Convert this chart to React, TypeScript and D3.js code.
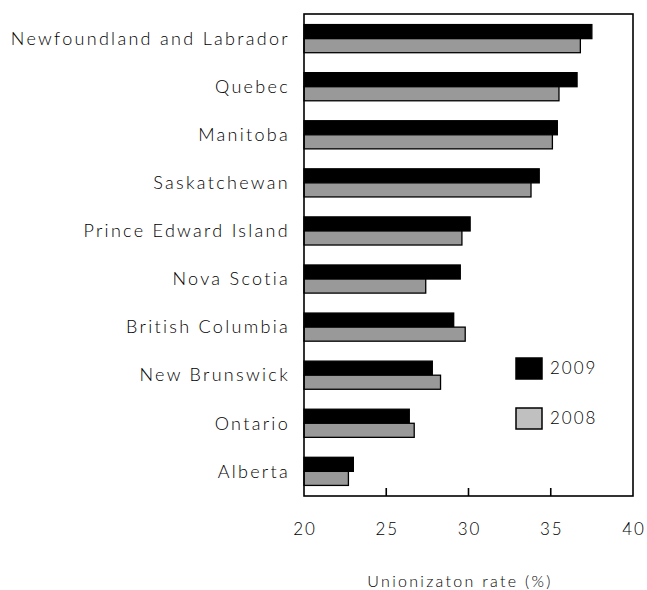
import React, { useEffect, useRef } from 'react';
import * as d3 from 'd3';

// Unionization rate by province, 2009 vs 2008
const provinces = [
  'Newfoundland and Labrador',
  'Quebec',
  'Manitoba',
  'Saskatchewan',
  'Prince Edward Island',
  'Nova Scotia',
  'British Columbia',
  'New Brunswick',
  'Ontario',
  'Alberta',
];
const rate2009 = [37.5, 36.6, 35.4, 34.3, 30.1, 29.5, 29.1, 27.8, 26.4, 23.0];
const rate2008 = [36.8, 35.5, 35.1, 33.8, 29.6, 27.4, 29.8, 28.3, 26.7, 22.7];
const xTicks = [20, 25, 30, 35, 40];
const seriesNames = ['2009', '2008'];

const FONT = 'Lato, "DejaVu Sans", sans-serif';

export default function App() {
  const svgRef = useRef<SVGSVGElement | null>(null);

  useEffect(() => {
    if (!svgRef.current) return;
    const W = 647;
    const H = 590;
    const margin = { top: 14, right: 14, bottom: 94, left: 304 };
    const width = W - margin.left - margin.right;
    const height = H - margin.top - margin.bottom;

    d3.select(svgRef.current).selectAll('*').remove();
    const svg = d3.select(svgRef.current).attr('width', W).attr('height', H);
    const g = svg.append('g').attr('transform', `translate(${margin.left},${margin.top})`);

    const x = d3.scaleLinear().domain([20, 40]).range([0, width]);
    const y = d3.scaleBand().domain(provinces).range([0, height]).paddingInner(0.415).paddingOuter(0.22);
    const sub = d3.scaleBand().domain(seriesNames).range([0, y.bandwidth()]);

    const rows = provinces.map((p, i) => ({ p, v: [rate2009[i], rate2008[i]] }));
    const fills = ['#000000', '#999999'];

    // bars
    const grp = g.selectAll('.row').data(rows).enter().append('g')
      .attr('transform', d => `translate(0,${y(d.p)})`);
    seriesNames.forEach((s, k) => {
      grp.append('rect')
        .attr('x', 0)
        .attr('y', sub(s) as number)
        .attr('width', d => x(d.v[k]))
        .attr('height', sub.bandwidth())
        .attr('fill', fills[k])
        .attr('stroke', '#000')
        .attr('stroke-width', 1.3);
    });

    // frame
    g.append('rect')
      .attr('x', 0).attr('y', 0).attr('width', width).attr('height', height)
      .attr('fill', 'none').attr('stroke', '#000').attr('stroke-width', 1.6);

    // inner ticks on bottom axis
    g.selectAll('.tk').data(xTicks.slice(1, -1)).enter().append('line')
      .attr('x1', d => x(d)).attr('x2', d => x(d))
      .attr('y1', height - 8).attr('y2', height)
      .attr('stroke', '#000').attr('stroke-width', 1.6);

    const txt = (sel: any, size: number, ls: number) =>
      sel.attr('font-family', FONT)
        .attr('font-size', size)
        .attr('font-weight', 300)
        .attr('letter-spacing', ls)
        .attr('fill', '#000');

    // tick labels
    txt(g.selectAll('.tl').data(xTicks).enter().append('text')
      .attr('x', d => x(d) + 1)
      .attr('y', height + 39)
      .attr('text-anchor', 'middle'), 17, 2)
      .text(d => d);

    // category labels
    txt(g.selectAll('.cl').data(provinces).enter().append('text')
      .attr('x', -14)
      .attr('y', d => (y(d) as number) + y.bandwidth() / 2)
      .attr('dy', '0.35em')
      .attr('text-anchor', 'end'), 18, 2.3)
      .text(d => d);

    // axis title
    txt(g.append('text')
      .attr('x', 156)
      .attr('y', height + 91)
      .attr('text-anchor', 'middle'), 16, 2.3)
      .text('Unionizaton rate (%)');

    // legend
    const legendFills = ['#000000', '#c0c0c0'];
    const legendY = [344, 394];
    seriesNames.forEach((s, k) => {
      g.append('rect')
        .attr('x', 212).attr('y', legendY[k])
        .attr('width', 26).attr('height', 21)
        .attr('fill', legendFills[k])
        .attr('stroke', '#000').attr('stroke-width', 1.5);
      txt(g.append('text')
        .attr('x', 246).attr('y', legendY[k] + 16), 17, 2)
        .text(s);
    });
  }, []);

  return (
    <div style={{ position: 'absolute', left: 0, top: 0, background: '#fff' }}>
      <svg ref={svgRef} style={{ display: 'block' }} />
    </div>
  );
}
